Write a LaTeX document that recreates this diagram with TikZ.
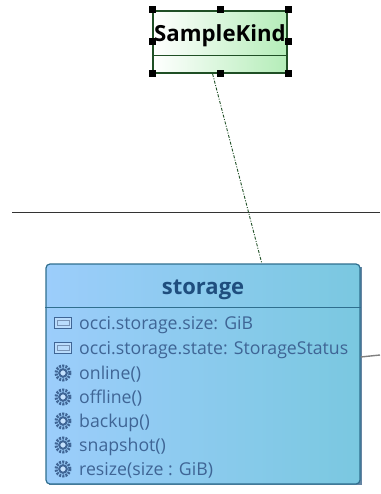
\documentclass[tikz,border=0pt]{standalone}
\usepackage{fontspec}
\setmainfont{Open Sans}
\usepackage{tikz}
\definecolor{kindline}{HTML}{1F4F25}
\definecolor{kindgreen}{HTML}{B4EDB8}
\definecolor{classline}{HTML}{2F6F8F}
\definecolor{classleft}{HTML}{9CCDFB}
\definecolor{classright}{HTML}{7AC8E0}
\definecolor{titleblue}{HTML}{1F4E7E}
\definecolor{rowblue}{HTML}{3F6595}
\tikzset{
    handle/.style={fill=black, minimum size=7pt, inner sep=0pt},
    rowlabel/.style={anchor=base west, inner sep=0pt, text=rowblue, font=\fontsize{17.7}{20}\selectfont},
    attricon/.pic={
        \draw[rowblue, fill=classleft!70!white, line width=0.9pt] (-8.5,-5.5) rectangle (8.5,5.5);
        \draw[rowblue!70, line width=0.7pt] (-6,-2.5) rectangle (6,2.5);
    },
    cogicon/.pic={
        \draw[rowblue, line width=3pt, dash pattern=on 2pt off 1.2pt] (0,0) circle (7);
        \draw[rowblue, line width=2pt, fill=classleft!60!white] (0,0) circle (3.8);
    }
}
\begin{document}
\begin{tikzpicture}[x=1pt, y=-1pt]
    \useasboundingbox (0,0) rectangle (380,494);
    % package boundary and the outgoing link
    \draw[line width=1pt, black!80] (12,212) -- (380,212);
    % sample kind
    \node[draw=kindline, line width=2pt, left color=white, right color=kindgreen, minimum width=134pt, minimum height=62pt, inner sep=0pt] (kind) at (220,42) {};
    \node[inner sep=0pt, text=black, font=\bfseries\fontsize{22.2}{24}\selectfont] (kindname) at (220,36) {SampleKind};
    \draw[kindline, line width=1pt] (kind.west |- 0,56) -- (kind.east |- 0,56);
    \foreach \name/\anchor in {h1/north west, h2/north, h3/north east, h4/west, h5/east, h6/south west, h7/south, h8/south east}
        \node[handle] (\name) at (kind.\anchor) {};
    % shadow and class box
    \fill[black!35!classleft] (49,267) rectangle (362,485);
    \node[draw=classline, line width=1.2pt, rounded corners=4pt, left color=classleft, right color=classright, minimum width=314pt, minimum height=220pt, inner sep=0pt] (storage) at (203,374) {};
    \node[inner sep=0pt, text=titleblue, font=\bfseries\fontsize{22}{24}\selectfont] (title) at (203,290) {storage};
    \draw[classline, line width=0.9pt] (storage.west |- 0,307) -- (storage.east |- 0,307);
    \draw[kindline, line width=0.9pt, dash pattern=on 3pt off 1.5pt on 1pt off 1.5pt] (kind.-103) -- (storage.62);
    \draw[line width=1.4pt, black!50] (storage.east |- 0,357) -- (380,355);
    % rows
    \foreach \y/\name/\txt in {323/sizerow/occi.storage.size: GiB, 348/staterow/occi.storage.state: StorageStatus}{
        \pic at (63,\y) {attricon};
        \node[rowlabel] (\name) at (79,\y+6) {\txt};
    }
    \foreach \y/\name/\txt in {373/onlinerow/online(), 397/offlinerow/offline(), 421/backuprow/backup(), 445/snapshotrow/snapshot(), 469/resizerow/resize(size : GiB)}{
        \pic at (63,\y) {cogicon};
        \node[rowlabel] (\name) at (79,\y+6) {\txt};
    }
\end{tikzpicture}
\end{document}
